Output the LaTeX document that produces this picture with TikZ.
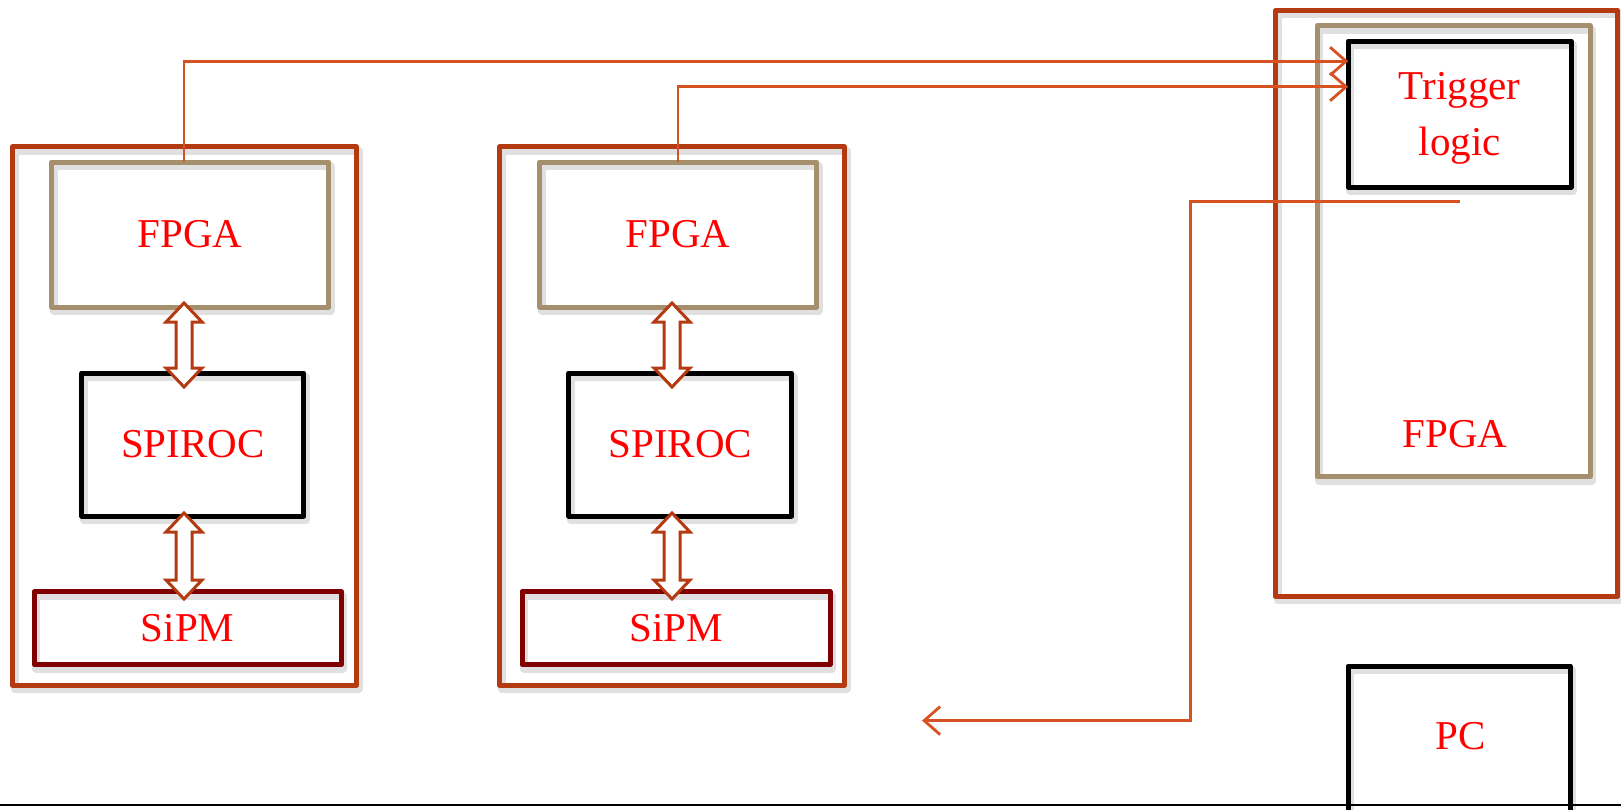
\documentclass[tikz,border=0pt]{standalone}
\usepackage{fontspec}
\setmainfont{Liberation Serif}
\usetikzlibrary{arrows.meta,calc}
\definecolor{rust}{RGB}{180,58,18}
\definecolor{tan}{RGB}{166,143,108}
\definecolor{maroon}{RGB}{128,0,0}
\definecolor{wire}{RGB}{214,82,34}
\definecolor{txtred}{RGB}{255,0,0}
\definecolor{baseline}{RGB}{70,70,70}
\tikzset{
  every node/.style={inner sep=0pt, outer sep=0pt},
  shadowed/.style={preaction={draw=black, draw opacity=0.12, line width=8pt, transform canvas={xshift=2pt,yshift=-4pt}}},
  box/.style={draw, rectangle, line join=round, shadowed},
  outerbox/.style={box, draw=rust, line width=5pt},
  fpgabox/.style={box, draw=tan, line width=5pt},
  chipbox/.style={box, draw=black, line width=5pt},
  sipmbox/.style={box, draw=maroon, line width=5pt},
  lbl/.style={text=txtred, font=\fontsize{41}{56}\selectfont, align=center},
  conn/.style={draw=wire, line width=2.8pt, -{Straight Barb[length=16pt,width=28pt,line width=2.8pt]}},
  dblarr/.style={draw=rust, line width=3pt, fill=white, line join=miter},
}
\newcommand{\blockdbl}[2]{%
  \path[dblarr] let \p1=(#1), \p2=(#2) in
    (\x1,\y1) -- (\x1+18pt,\y1-19pt) -- (\x1+8pt,\y1-19pt) -- (\x1+8pt,\y2+19pt)
    -- (\x1+18pt,\y2+19pt) -- (\x1,\y2) -- (\x1-18pt,\y2+19pt) -- (\x1-8pt,\y2+19pt)
    -- (\x1-8pt,\y1-19pt) -- (\x1-18pt,\y1-19pt) -- cycle;}
\begin{document}
\begin{tikzpicture}[x=1pt,y=-1pt]
\fill[white] (0,0) rectangle (1621,810);
\useasboundingbox (0,0) rectangle (1621,810);

% bottom rule
\draw[baseline, line width=1.5pt] (0,805) coordinate (rl) -- (1621,805) coordinate (rr);

% module 1
\node[outerbox, minimum width=344pt, minimum height=538pt] (box1) at (184.5,416) {};
\node[fpgabox, minimum width=277pt, minimum height=145pt, lbl] (fpga1) at (190,234.6) {FPGA};
\node[chipbox, minimum width=222pt, minimum height=143pt, lbl] (spiroc1) at (192.8,444.5) {SPIROC};
\node[sipmbox, minimum width=307pt, minimum height=73pt, lbl] (sipm1) at (187.7,628) {SiPM};

% module 2
\node[outerbox, minimum width=345pt, minimum height=538pt] (box2) at (672,416) {};
\node[fpgabox, minimum width=277pt, minimum height=145pt, lbl] (fpga2) at (678,234.6) {FPGA};
\node[chipbox, minimum width=223pt, minimum height=143pt, lbl] (spiroc2) at (680.2,444.5) {SPIROC};
\node[sipmbox, minimum width=308pt, minimum height=73pt, lbl] (sipm2) at (676,628) {SiPM};

% right crate
\node[outerbox, minimum width=342pt, minimum height=586pt] (box3) at (1446.8,303.4) {};
\node[fpgabox, minimum width=273pt, minimum height=451pt] (fpga3) at (1453.6,251.2) {};
\node[lbl] (fpga3lbl) at (1455,434) {FPGA};
\node[chipbox, minimum width=223pt, minimum height=146pt] (trig) at (1459.7,114.2) {};
\node[lbl] (triglbl) at (1459.7,118.5) {Trigger\\logic};

% PC
\node[chipbox, minimum width=222pt, minimum height=170pt] (pc) at (1459.2,751) {};
\node[lbl] (pclbl) at (1461,736) {PC};

% double arrows
\coordinate (a1t) at (184,303);  \coordinate (a1b) at (184,387);
\coordinate (a2t) at (184,513);  \coordinate (a2b) at (184,599);
\coordinate (a3t) at (672,303);  \coordinate (a3b) at (672,387);
\coordinate (a4t) at (672,513);  \coordinate (a4b) at (672,599);
\blockdbl{a1t}{a1b}
\blockdbl{a2t}{a2b}
\blockdbl{a3t}{a3b}
\blockdbl{a4t}{a4b}

% connectors
\draw[conn] ([xshift=-6pt]fpga1.north) |- ([yshift=53pt]trig.west);
\draw[conn] (fpga2.north) |- ([yshift=27.4pt]trig.west);
\coordinate (pcout) at (922,720.6);
\draw[conn] ([yshift=-14pt]trig.south) -- ++(-269,0) |- (pcout);
\end{tikzpicture}
\end{document}
